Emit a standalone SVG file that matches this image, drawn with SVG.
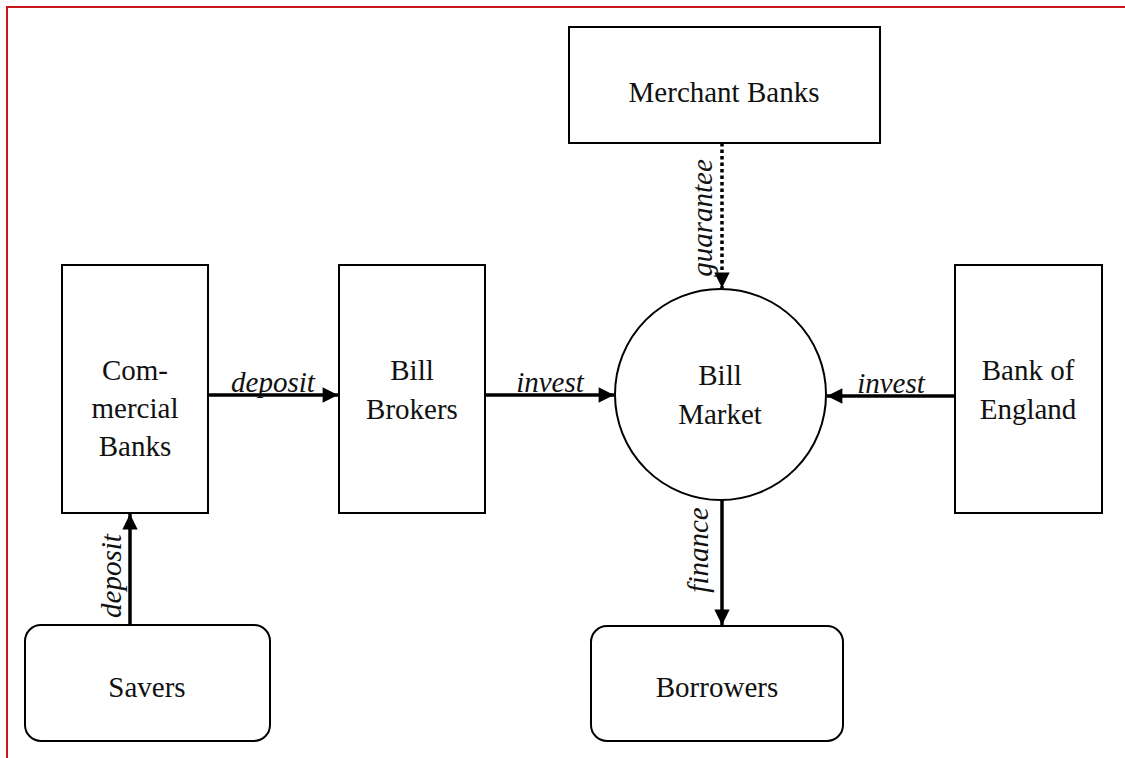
<svg xmlns="http://www.w3.org/2000/svg" width="1125" height="758" viewBox="0 0 1125 758">
<style>
.node{fill:#fff;stroke:#000;stroke-width:2}
.t{font-family:"Liberation Serif","Times New Roman",serif;font-size:29px;fill:#111;text-anchor:middle}
.l{font-family:"Liberation Serif","Times New Roman",serif;font-size:29px;font-style:italic;fill:#111;text-anchor:middle}
.c{stroke:#000;stroke-width:3.5;fill:none}
</style>
<defs>
<marker id="ah" viewBox="0 0 10 10" refX="10" refY="5" markerWidth="4.6" markerHeight="4.4" orient="auto" markerUnits="strokeWidth">
<path d="M0,0 L10,5 L0,10 z" fill="#000"/>
</marker>
</defs>
<rect width="1125" height="758" fill="#fff"/>
<path d="M7,758 V7 H1125" fill="none" stroke="#c8141c" stroke-width="2"/>
<g id="merchant-banks"><rect class="node" x="569" y="27" width="311" height="116"/><text class="t" x="724" y="102">Merchant Banks</text></g>
<g id="commercial-banks"><rect class="node" x="62" y="265" width="146" height="248"/><text class="t" x="135" y="380">Com-</text><text class="t" x="135" y="418">mercial</text><text class="t" x="135" y="456">Banks</text></g>
<g id="bill-brokers"><rect class="node" x="339" y="265" width="146" height="248"/><text class="t" x="412" y="380">Bill</text><text class="t" x="412" y="419">Brokers</text></g>
<g id="bill-market"><circle class="node" cx="720.5" cy="394.5" r="105.5"/><text class="t" x="720" y="385">Bill</text><text class="t" x="720" y="424">Market</text></g>
<g id="bank-of-england"><rect class="node" x="955" y="265" width="147" height="248"/><text class="t" x="1028" y="380">Bank of</text><text class="t" x="1028" y="419">England</text></g>
<g id="savers"><rect class="node" x="25" y="625" width="245" height="116" rx="16"/><text class="t" x="147" y="697">Savers</text></g>
<g id="borrowers"><rect class="node" x="591" y="626" width="252" height="115" rx="16"/><text class="t" x="717" y="697">Borrowers</text></g>
<g id="connectors">
<line class="c" x1="722" y1="143" x2="722" y2="288" stroke-dasharray="3.5,3" marker-end="url(#ah)"/>
<line class="c" x1="208" y1="395" x2="338" y2="395" marker-end="url(#ah)"/>
<line class="c" x1="485" y1="395" x2="614" y2="395" marker-end="url(#ah)"/>
<line class="c" x1="955" y1="396" x2="827" y2="396" marker-end="url(#ah)"/>
<line class="c" x1="130" y1="625" x2="130" y2="514" marker-end="url(#ah)"/>
<line class="c" x1="722" y1="500" x2="722" y2="625" marker-end="url(#ah)"/>
<text class="l" x="273" y="392">deposit</text>
<text class="l" x="550" y="392">invest</text>
<text class="l" x="891" y="393">invest</text>
<text class="l" transform="translate(712,218) rotate(-90)">guarantee</text>
<text class="l" transform="translate(121,576) rotate(-90)">deposit</text>
<text class="l" transform="translate(708,550) rotate(-90)">finance</text>
</g>
</svg>
